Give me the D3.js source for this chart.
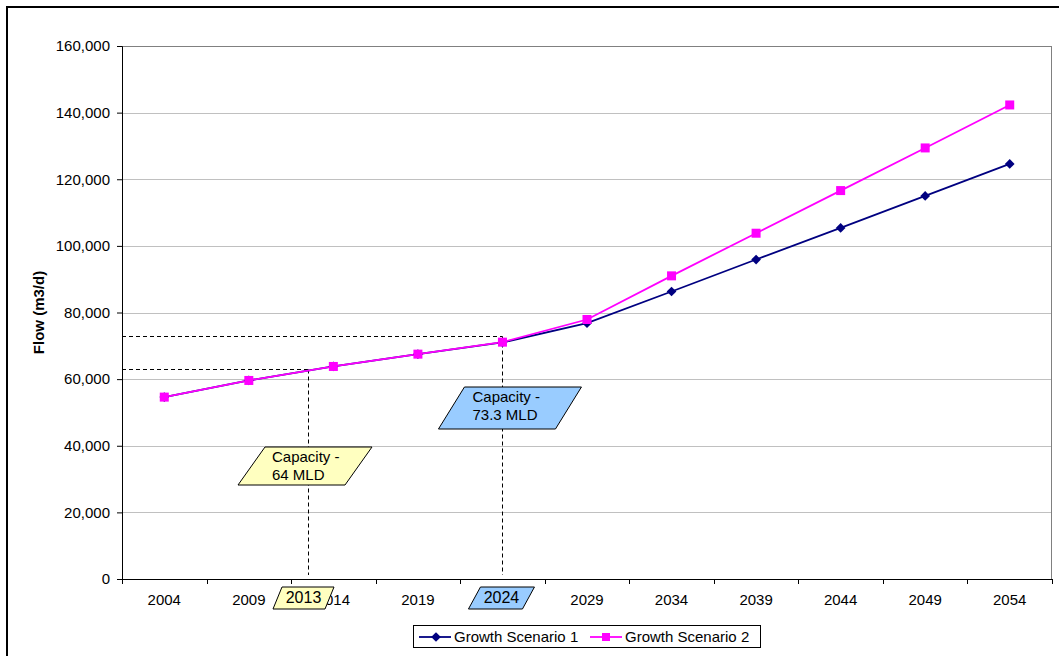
<!DOCTYPE html>
<meta charset="utf-8">
<script src="https://d3js.org/d3.v7.min.js"></script>
<style>
  body { margin: 0; background: #fff; }
  svg text { font-family: "Liberation Sans", Arial, sans-serif; }
</style>
<div id="my_dataviz"></div>
<script>

// chart data
var years = ["2004", "2009", "2014", "2019", "2024", "2029", "2034", "2039", "2044", "2049", "2054"];
var scenario1 = [54600, 59600, 63800, 67500, 71000, 76800, 86300, 95900, 105400, 115000, 124600];
var scenario2 = [54600, 59600, 63800, 67500, 71100, 77900, 91000, 103800, 116600, 129400, 142300];
var seriesNames = ["Growth Scenario 1", "Growth Scenario 2"];
var yTicks = [0, 20000, 40000, 60000, 80000, 100000, 120000, 140000, 160000];

// capacity markers: year where it's reached, flow level, labels
var capYears = [2012.5, 2024];
var capFlows = [63000, 73000];
var capLabels = [["Capacity -", "64 MLD"], ["Capacity -", "73.3 MLD"]];
var capYearLabels = ["2013", "2024"];
var capColors = ["#ffffc0", "#99ccff"];

var W = 1059, H = 656;
var margin = {top: 46, right: 7, bottom: 77, left: 122},
    width = W - margin.left - margin.right,
    height = H - margin.top - margin.bottom;

var root = d3.select("#my_dataviz")
  .append("svg")
    .attr("width", W)
    .attr("height", H);

// outer chart frame (runs off the picture on right/bottom)
root.append("rect")
  .attr("x", 7).attr("y", 7).attr("width", W + 20).attr("height", H + 20)
  .attr("fill", "none").attr("stroke", "#000").attr("stroke-width", 2);

var svg = root.append("g")
  .attr("transform", "translate(" + margin.left + "," + margin.top + ")");

var x = d3.scaleBand().domain(years).range([0, width]).padding(0);
var y = d3.scaleLinear().domain([0, 160000]).range([height, 0]);

// year -> x position (linear between category centres)
function xYear(yr) {
  var first = +years[0], step = +years[1] - +years[0];
  return x(years[0]) + x.bandwidth() / 2 + (yr - first) / step * x.bandwidth();
}

// gridlines
svg.append("g")
  .selectAll("line")
  .data(yTicks.filter(function(d) { return d > 0; }))
  .enter().append("line")
    .attr("x1", 0).attr("x2", width)
    .attr("y1", function(d) { return Math.round(y(d)) + 0.5; })
    .attr("y2", function(d) { return Math.round(y(d)) + 0.5; })
    .attr("stroke", function(d) { return d == 160000 ? "#808080" : "#c0c0c0"; })
    .attr("stroke-width", 1);

// right border of plot area
svg.append("line")
  .attr("x1", width - 0.5).attr("x2", width - 0.5)
  .attr("y1", 0).attr("y2", height)
  .attr("stroke", "#808080");

// Y axis
var yAxis = svg.append("g")
  .call(d3.axisLeft(y).tickValues(yTicks).tickSize(5).tickPadding(7)
    .tickFormat(d3.format(",")));
yAxis.selectAll("text").style("font-size", "15px").attr("fill", "#000");
yAxis.select(".domain").attr("stroke", "#000");

// X axis: ticks at band edges, labels at centres
var xAxis = svg.append("g").attr("transform", "translate(0," + height + ")");
xAxis.append("line").attr("x1", 0).attr("x2", width).attr("y1", 0.5).attr("y2", 0.5).attr("stroke", "#000");
xAxis.selectAll(".edge")
  .data(years.concat(["end"]))
  .enter().append("line")
    .attr("class", "edge")
    .attr("x1", function(d, i) { return Math.round(i * x.bandwidth()) + 0.5; })
    .attr("x2", function(d, i) { return Math.round(i * x.bandwidth()) + 0.5; })
    .attr("y1", 0).attr("y2", 5)
    .attr("stroke", "#000");
xAxis.selectAll(".lab")
  .data(years)
  .enter().append("text")
    .attr("class", "lab")
    .attr("x", function(d) { return x(d) + x.bandwidth() / 2; })
    .attr("y", 26)
    .attr("text-anchor", "middle")
    .style("font-size", "15px")
    .text(function(d) { return d; });

// Y title
root.append("text")
  .attr("transform", "translate(44," + (margin.top + height / 2) + ") rotate(-90)")
  .attr("text-anchor", "middle")
  .style("font-size", "15px")
  .style("font-weight", "bold")
  .text("Flow (m3/d)");

// dashed capacity guides
capYears.forEach(function(yr, i) {
  var cx = Math.round(xYear(yr)) + 0.5, cy = Math.round(y(capFlows[i])) + 0.5;
  svg.append("line").attr("x1", 0).attr("x2", cx).attr("y1", cy).attr("y2", cy)
    .attr("stroke", "#000").attr("stroke-dasharray", "4,3");
  svg.append("line").attr("x1", cx).attr("x2", cx).attr("y1", cy).attr("y2", height - 4)
    .attr("stroke", "#000").attr("stroke-dasharray", "4,3");
});

// lines
var line = d3.line()
  .x(function(d, i) { return x(years[i]) + x.bandwidth() / 2; })
  .y(function(d) { return y(d); });

var colors = ["#000080", "#ff00ff"];
[scenario1, scenario2].forEach(function(s, k) {
  svg.append("path").datum(s)
    .attr("d", line)
    .attr("fill", "none")
    .attr("stroke", colors[k])
    .attr("stroke-width", 1.8);
});

// markers
var diamond = d3.symbol().type(d3.symbolDiamond2).size(60);
svg.selectAll(".m1").data(scenario1).enter().append("path")
  .attr("class", "m1")
  .attr("transform", function(d, i) { return "translate(" + (x(years[i]) + x.bandwidth() / 2) + "," + y(d) + ")"; })
  .attr("d", diamond)
  .attr("fill", colors[0]);
svg.selectAll(".m2").data(scenario2).enter().append("rect")
  .attr("class", "m2")
  .attr("x", function(d, i) { return x(years[i]) + x.bandwidth() / 2 - 4.5; })
  .attr("y", function(d) { return y(d) - 4.5; })
  .attr("width", 9).attr("height", 9)
  .attr("fill", colors[1]);

// parallelogram helper
function para(g, x0, y0, w, h, skew, fill) {
  var pts = [[x0 + skew, y0], [x0 + skew + w, y0], [x0 + w, y0 + h], [x0, y0 + h]];
  g.append("polygon")
    .attr("points", pts.map(function(p) { return p.join(","); }).join(" "))
    .attr("fill", fill).attr("stroke", "#000").attr("stroke-width", 1);
}

// capacity callouts
var callouts = [
  {dx: -70, y0: 447, h: 38, w: 107, skew: 27, tx: -36},
  {dx: -64, y0: 387, h: 42, w: 117, skew: 26, tx: -30}
];
var tags = [
  {dx: -35, w: 52, skew: 9},
  {dx: -34, w: 54, skew: 12}
];
capYears.forEach(function(yr, i) {
  var cx = margin.left + xYear(yr), c = callouts[i], t = tags[i];
  para(root, cx + c.dx, c.y0, c.w, c.h, c.skew, capColors[i]);
  capLabels[i].forEach(function(s, j) {
    root.append("text")
      .attr("x", cx + c.tx)
      .attr("y", c.y0 + 15 + j * 17.5)
      .style("font-size", "15px")
      .text(s);
  });
  // small year tag on x axis
  para(root, cx + t.dx, 587, t.w, 22, t.skew, capColors[i]);
  root.append("text")
    .attr("x", cx + t.dx + (t.w + t.skew) / 2)
    .attr("y", 603)
    .attr("text-anchor", "middle")
    .style("font-size", "16px")
    .text(capYearLabels[i]);
});

// legend
var lg = root.append("g").attr("transform", "translate(413,625)");
lg.append("rect").attr("x", 0.5).attr("y", 0.5).attr("width", 347).attr("height", 22)
  .attr("fill", "#fff").attr("stroke", "#000");
var lx = [6, 177];
seriesNames.forEach(function(n, k) {
  lg.append("line").attr("x1", lx[k]).attr("x2", lx[k] + 32).attr("y1", 12).attr("y2", 12)
    .attr("stroke", colors[k]).attr("stroke-width", 1.8);
  if (k == 0) {
    lg.append("path").attr("transform", "translate(" + (lx[k] + 17) + ",12)")
      .attr("d", diamond).attr("fill", colors[k]);
  } else {
    lg.append("rect").attr("x", lx[k] + 12).attr("y", 8).attr("width", 8).attr("height", 8)
      .attr("fill", colors[k]);
  }
  lg.append("text").attr("x", lx[k] + 35).attr("y", 17)
    .style("font-size", "15px").text(n);
});

</script>
